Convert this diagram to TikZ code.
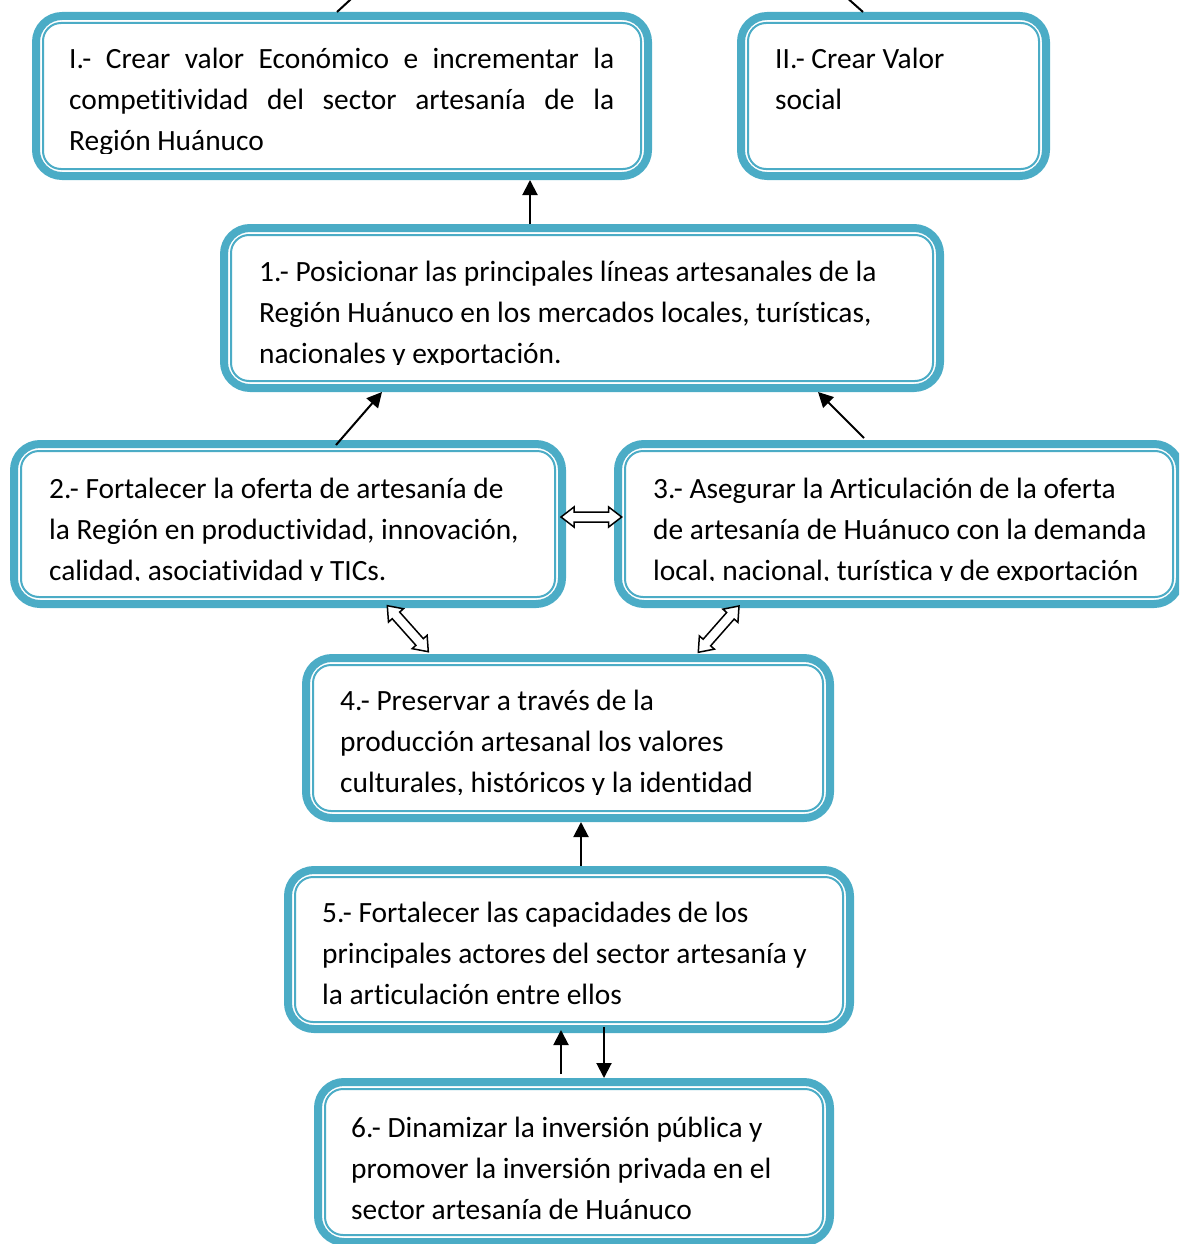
\documentclass[tikz,border=0pt]{standalone}
\usepackage{fontspec}
\setmainfont{Carlito}[Ligatures={NoCommon,NoContextual}]
\usetikzlibrary{arrows.meta,calc}
\definecolor{teal1}{HTML}{4BACC6}
\tikzset{
  outerbox/.style={draw=teal1, line width=8pt, rounded corners=26pt, rectangle, inner sep=0pt, fill=white},
  innerline/.style={draw=teal1, line width=2pt, rounded corners=18pt},
  txt/.style={anchor=base west, inner sep=0pt, font=\fontsize{29.4}{41}\selectfont},
  arr/.style={line width=2pt, -{Triangle[length=15pt,width=15pt]}},
  plainline/.style={line width=2pt},
  hollow/.style={draw=black, line width=1.5pt, fill=white, line join=miter},
}
\newcommand\obbox[5]{%
  \node[outerbox, minimum width={#4-#2-8}, minimum height={#5-#3-8}] (#1) at ({(#2+#4)/2},{(#3+#5)/2}) {};
  \draw[innerline] ([shift={(11,11)}]#1.north west) rectangle ([shift={(-11,-11)}]#1.south east);
}
\newcommand\hdarrow[2]{%
  \coordinate (ha) at ($(#1)!13pt!(#2)$);
  \coordinate (hb) at ($(#2)!13pt!(#1)$);
  \draw[hollow] (#1) -- ($(ha)!10pt!90:(#2)$) -- ($(ha)!5pt!90:(#2)$)
    -- ($(hb)!5pt!-90:(#1)$) -- ($(hb)!10pt!-90:(#1)$) -- (#2)
    -- ($(hb)!10pt!90:(#1)$) -- ($(hb)!5pt!90:(#1)$)
    -- ($(ha)!5pt!-90:(#2)$) -- ($(ha)!10pt!-90:(#2)$) -- cycle;
}
\begin{document}
\begin{tikzpicture}[x=1pt,y=-1pt]
\useasboundingbox (0,0) rectangle (1179,1244);
\clip (0,0) rectangle (1179,1244);

% boxes (outer edges)
\obbox{bI}{32}{12}{652}{180}
\obbox{bII}{737}{12}{1050}{180}
\obbox{b1}{220}{224}{944}{392}
\obbox{b2}{10}{440}{566}{608}
\obbox{b3}{614}{440}{1184}{608}
\obbox{b4}{302}{654}{834}{822}
\obbox{b5}{284}{866}{854}{1033}
\obbox{b6}{314}{1078}{834}{1246}

% texts
\begin{scope}
\clip (32,12) rectangle (652,153);
\node[txt] (tI) at (69,69) {\parbox[t]{560pt}{%
\makebox[545pt][s]{I.- Crear valor Económico e incrementar la}\\
\makebox[545pt][s]{competitividad del sector artesanía de la}\\
Región Huánuco}};
\end{scope}
\node[txt] (tII) at (775,69) {\parbox[t]{260pt}{II.- Crear Valor\\social}};
\begin{scope}
\clip (220,224) rectangle (944,364);
\node[txt] (t1) at (259,281) {\parbox[t]{670pt}{1.- Posicionar las principales líneas artesanales de la\\Región Huánuco en los mercados locales, turísticas,\\nacionales y exportación.}};
\end{scope}
\begin{scope}
\clip (10,440) rectangle (566,580);
\node[txt] (t2) at (49,498) {\parbox[t]{510pt}{2.- Fortalecer la oferta de artesanía de\\la Región en productividad, innovación,\\calidad, asociatividad y TICs.}};
\end{scope}
\begin{scope}
\clip (614,440) rectangle (1179,580);
\node[txt] (t3) at (653,498) {\parbox[t]{520pt}{3.- Asegurar la Articulación de la oferta\\de artesanía de Huánuco con la demanda\\local, nacional, turística y de exportación}};
\end{scope}
\begin{scope}
\clip (302,654) rectangle (834,794);
\node[txt] (t4) at (340,710) {\parbox[t]{480pt}{4.- Preservar a través de la\\producción artesanal los valores\\culturales, históricos y la identidad}};
\end{scope}
\node[txt] (t5) at (322,922) {\parbox[t]{520pt}{5.- Fortalecer las capacidades de los\\principales actores del sector artesanía y\\la articulación entre ellos}};
\node[txt] (t6) at (351,1137) {\parbox[t]{470pt}{6.- Dinamizar la inversión pública y\\promover la inversión privada en el\\sector artesanía de Huánuco}};

% partial lines at the top
\coordinate (upL) at (363,-12);
\coordinate (upR) at (836,-12);
\draw[plainline] ([xshift=-5pt]bI.north) -- (upL);
\draw[plainline] ([xshift=-30.5pt]bII.north) -- (upR);

% arrows
\draw[arr] ([xshift=-52pt]b1.north) -- ([xshift=-52pt]b1.north |- bI.south);
\draw[arr] ([xshift=48pt,yshift=-5pt]b2.north) -- ([xshift=-200pt]b1.south);
\draw[arr] ([xshift=-35pt,yshift=2pt]b3.north) -- ([xshift=236pt]b1.south);
\draw[arr] ([xshift=12pt]b5.north) -- ([xshift=12pt]b5.north |- b4.south);
\draw[arr] ([xshift=-13pt,yshift=4pt]b6.north) -- ([xshift=-13pt,yshift=3pt]b6.north |- b5.south);
\draw[arr] ([xshift=35pt,yshift=6pt]b5.south) -- ([xshift=35pt]b5.south |- b6.north);

% hollow double arrows
\coordinate (h23a) at ([xshift=-5pt,yshift=7pt]b2.east);
\coordinate (h23b) at ([xshift=7.7pt,yshift=7pt]b3.west);
\hdarrow{h23a}{h23b}
\coordinate (h24a) at ([xshift=99.3pt,yshift=2.3pt]b2.south);
\coordinate (h24b) at ([xshift=-139.7pt,yshift=2.3pt]b4.north);
\hdarrow{h24a}{h24b}
\coordinate (h34a) at ([xshift=-160pt,yshift=2pt]b3.south);
\coordinate (h34b) at ([xshift=130.3pt,yshift=1.7pt]b4.north);
\hdarrow{h34a}{h34b}
\end{tikzpicture}
\end{document}
